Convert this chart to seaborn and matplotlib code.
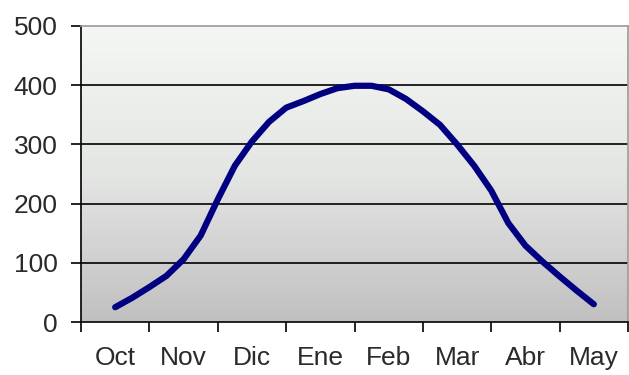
import numpy as np
import pandas as pd
import matplotlib
matplotlib.use("Agg")
import matplotlib.pyplot as plt
import seaborn as sns

# カテゴリと値（1/4か月ごとに読み取った値）
months = ["Oct", "Nov", "Dic", "Ene", "Feb", "Mar", "Abr", "May"]
values = [25, 41, 59, 78, 106, 146, 207, 264, 305, 338, 362, 373, 385, 395,
          399, 399, 393, 377, 356, 333, 300, 264, 222, 167, 129, 102, 77, 53, 30]
y_ticks = [0, 100, 200, 300, 400, 500]

sns.set_style("white")
plt.rcParams["font.family"] = ["Liberation Sans", "DejaVu Sans"]

df = pd.DataFrame({"pos": np.arange(len(values)) * 0.25, "value": values})

fig = plt.figure(figsize=(6.29, 3.75), dpi=100)
ax = fig.add_axes([0.1288, 0.1413, 0.8696, 0.7894])

# 背景のグラデーション
grad = np.linspace(0, 1, 256).reshape(-1, 1)
cmap = matplotlib.colors.LinearSegmentedColormap.from_list(
    "bg", ["#f5f7f5", "#e4e6e4", "#c0c0c0"])
ax.imshow(grad, aspect="auto", cmap=cmap, extent=[-0.5, 7.5, 0, 500],
          origin="upper", zorder=0)

for v in y_ticks[1:-1]:
    ax.axhline(v, color="black", lw=1.2, zorder=1)

sns.lineplot(data=df, x="pos", y="value", ax=ax, color="#000080", lw=4.5,
             zorder=3)
ax.lines[-1].set_solid_joinstyle("round")

ax.set_xlim(-0.5, 7.5)
ax.set_ylim(0, 500)
ax.set_yticks(y_ticks)
ax.set_yticklabels([str(v) for v in y_ticks], fontsize=19)
ax.set_xticks(np.arange(len(months) + 1) - 0.5)
ax.set_xticklabels([])
ax.set_xticks(np.arange(len(months)), minor=True)
ax.set_xticklabels(months, minor=True, fontsize=19)
ax.tick_params(axis="x", which="major", direction="out", length=7, width=1.2,
               color="black", bottom=True)
ax.tick_params(axis="x", which="minor", length=0, pad=17, colors="#2a2a2a")
ax.tick_params(axis="y", direction="out", length=7, width=1.2, color="black",
               left=True, pad=10, labelcolor="#2a2a2a")
ax.set_xlabel("")
ax.set_ylabel("")

for side in ["left", "bottom"]:
    ax.spines[side].set_color("black")
    ax.spines[side].set_linewidth(1.2)
for side in ["top", "right"]:
    ax.spines[side].set_color("#999999")
    ax.spines[side].set_linewidth(1.2)

fig.savefig("out.png", dpi=100)
